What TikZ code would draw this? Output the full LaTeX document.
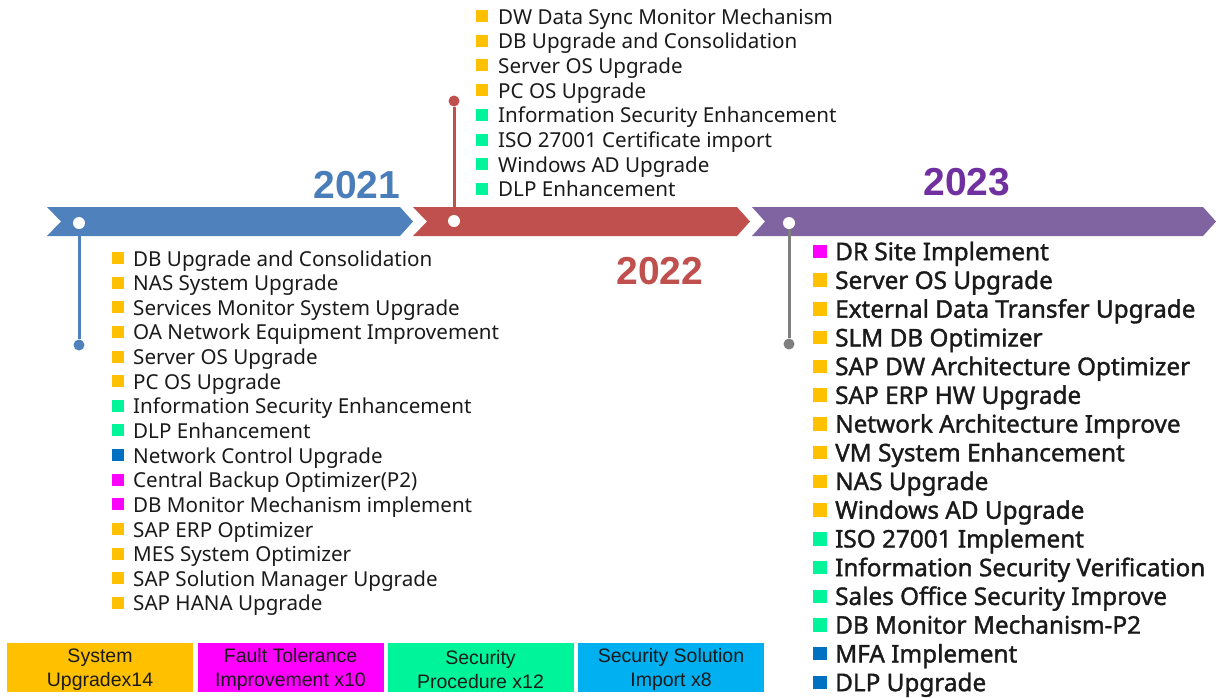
\documentclass[tikz,border=0pt]{standalone}
\usepackage{fontspec}
\setmainfont{Noto Sans}
\newfontfamily\yearfont{Liberation Sans}
\newfontfamily\legendfont{Liberation Sans}
\newfontfamily\heavyfont[RawFeature={embolden=1.5}]{Noto Sans}

% timeline colours
\definecolor{barBlue}{HTML}{4F81BD}
\definecolor{barRed}{HTML}{C0504D}
\definecolor{barPurple}{HTML}{8064A2}
\definecolor{stemGray}{HTML}{7F7F7F}
\definecolor{yearBlue}{HTML}{4A7EBB}
\definecolor{yearPurple}{HTML}{7030A0}
% category colours
\definecolor{catSys}{HTML}{FFC000}
\definecolor{catFault}{HTML}{FF00FF}
\definecolor{catSec}{HTML}{00F59B}
\definecolor{catSol}{HTML}{0070C0}
\definecolor{catSolBox}{HTML}{00B0F0}
\definecolor{inkDark}{HTML}{1A1A1A}

\tikzset{
  knot/.style={circle, fill=white, minimum size=12pt, inner sep=0pt},
  stemend/.style={circle, minimum size=11pt, inner sep=0pt},
  stem/.style={line width=3pt},
  yearlabel/.style={font=\yearfont\bfseries\fontsize{39}{39}\selectfont, inner sep=0pt},
  sq/.style={rectangle, minimum width=12pt, minimum height=12pt, inner sep=0pt},
  sqbig/.style={rectangle, minimum width=13.5pt, minimum height=13.5pt, inner sep=0pt},
  itemtext/.style={anchor=base west, inner sep=0pt, text=inkDark, font=\fontsize{20.6}{24}\selectfont},
  itembig/.style={anchor=base west, inner sep=0pt, text=inkDark, font=\heavyfont\fontsize{24.3}{28}\selectfont},
  legendbox/.style={rectangle, minimum width=186pt, minimum height=49pt, inner sep=0pt},
  legendtext/.style={inner sep=0pt, align=center, text=inkDark,
    font=\legendfont\fontsize{19.5}{24}\selectfont}
}

\begin{document}
\begin{tikzpicture}[x=1pt, y=-1pt]
\useasboundingbox (0,0) rectangle (1216,697);

% chevron bars
\fill[barBlue]   (47,207) -- (400,207) -- (413,221.5) -- (400,236) -- (47,236) -- (61,221.5) -- cycle;
\fill[barRed]    (413,207) -- (737,207) -- (750,221.5) -- (737,236) -- (413,236) -- (427,221.5) -- cycle;
\fill[barPurple] (752,207) -- (1203,207) -- (1216,221.5) -- (1203,236) -- (752,236) -- (765,221.5) -- cycle;

% knots on the bars and their stems
\node[knot] (k21) at (79,223) {};
\node[knot] (k22) at (454,221) {};
\node[knot] (k23) at (789,223) {};
\node[stemend, fill=barBlue] (s21) at (79,345) {};
\node[stemend, fill=barRed] (s22) at (454,101) {};
\node[stemend, fill=stemGray] (s23) at (789,344) {};
\draw[stem, barBlue] (k21) -- (s21);
\draw[stem, barRed] (k22) -- (s22);
\draw[stem, stemGray] (k23) -- (s23);

% years
\node[yearlabel, text=yearBlue]   (y21) at (357,185) {2021};
\node[yearlabel, text=barRed]     (y22) at (660,271) {2022};
\node[yearlabel, text=yearPurple] (y23) at (967,182) {2023};

% 2021 projects
\foreach \c/\t [count=\i] in {
  catSys/DB Upgrade and Consolidation,
  catSys/NAS System Upgrade,
  catSys/Services Monitor System Upgrade,
  catSys/OA Network Equipment Improvement,
  catSys/Server OS Upgrade,
  catSys/PC OS Upgrade,
  catSec/Information Security Enhancement,
  catSec/DLP Enhancement,
  catSol/Network Control Upgrade,
  catFault/Central Backup Optimizer(P2),
  catFault/DB Monitor Mechanism implement,
  catSys/SAP ERP Optimizer,
  catSys/MES System Optimizer,
  catSys/SAP Solution Manager Upgrade,
  catSys/SAP HANA Upgrade}{
  \pgfmathsetmacro{\yy}{258+24.64*(\i-1)}
  \node[sq, fill=\c] (pa\i) at (118,\yy) {};
  \node[itemtext] (ta\i) at (133,\yy+8) {\t};
}

% 2022 projects
\foreach \c/\t [count=\i] in {
  catSys/DW Data Sync Monitor Mechanism,
  catSys/DB Upgrade and Consolidation,
  catSys/Server OS Upgrade,
  catSys/PC OS Upgrade,
  catSec/Information Security Enhancement,
  catSec/ISO 27001 Certificate import,
  catSec/Windows AD Upgrade,
  catSec/DLP Enhancement}{
  \pgfmathsetmacro{\yy}{16+24.7*(\i-1)}
  \node[sq, fill=\c] (pb\i) at (482,\yy) {};
  \node[itemtext] (tb\i) at (498,\yy+8) {\t};
}

% 2023 projects
\foreach \c/\t [count=\i] in {
  catFault/DR Site Implement,
  catSys/Server OS Upgrade,
  catSys/External Data Transfer Upgrade,
  catSys/SLM DB Optimizer,
  catSys/SAP DW Architecture Optimizer,
  catSys/SAP ERP HW Upgrade,
  catSys/Network Architecture Improve,
  catSys/VM System Enhancement,
  catSys/NAS Upgrade,
  catSys/Windows AD Upgrade,
  catSec/ISO 27001 Implement,
  catSec/Information Security Verification,
  catSec/Sales Office Security Improve,
  catSec/DB Monitor Mechanism-P2,
  catSol/MFA Implement,
  catSol/DLP Upgrade}{
  \pgfmathsetmacro{\yy}{251.5+28.73*(\i-1)}
  \node[sqbig, fill=\c] (pc\i) at (820,\yy) {};
  \node[itembig] (tc\i) at (835,\yy+8.7) {\t};
}

% legend
\node[legendbox, fill=catSys]    (lg1) at (100,667.5)   {};
\node[legendbox, fill=catFault]  (lg2) at (290.5,667.5) {};
\node[legendbox, fill=catSec]    (lg3) at (480.5,667.5) {};
\node[legendbox, fill=catSolBox] (lg4) at (671,667.5)   {};
\node[legendtext] (lt1) at ([yshift=-2pt]lg1.center) {System\\Upgradex14};
\node[legendtext] (lt2) at ([yshift=-2pt]lg2.center) {Fault Tolerance\\Improvement x10};
\node[legendtext] (lt3) at ([yshift=-2pt]lg3.center) {Security\\Procedure x12};
\node[legendtext] (lt4) at ([yshift=-2pt]lg4.center) {Security Solution\\Import x8};
\end{tikzpicture}
\end{document}
